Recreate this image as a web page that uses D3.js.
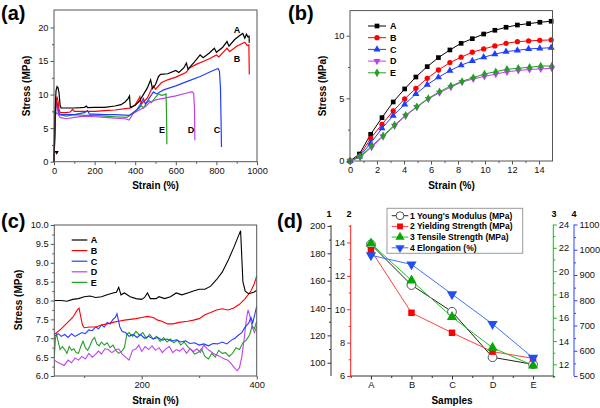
<!DOCTYPE html>
<html>
<head>
<meta charset="utf-8">
<script src="https://cdn.jsdelivr.net/npm/d3@7"></script>
<style>
body { margin: 0; background: #fff; }
text { font-family: Arial, "Liberation Sans", sans-serif; }
</style>
</head>
<body>
<svg width="600" height="408"></svg>
<script>
// ---- data ----
var sampleNames = ["A", "B", "C", "D", "E"];

// (a) full stress-strain curves [strain %, stress MPa]
var curveA = [[0,0],[3,4],[6,8],[10,10.6],[15,11.2],[20,11.0],[25,10.2],[30,8.4],[35,8.0],[60,8.0],[100,8.0],[130,8.05],[150,8.1],[160,8.3],[165,8.05],[200,8.1],[250,8.1],[300,8.3],[330,8.5],[350,8.9],[365,9.4],[372,9.8],[376,8.1],[400,8.4],[420,9.0],[440,10.0],[460,11.0],[476,12.2],[485,10.9],[500,11.5],[515,12.7],[525,13.0],[560,13.1],[600,13.6],[615,13.3],[640,14.0],[652,14.7],[660,13.8],[690,14.8],[720,15.9],[735,15.5],[765,16.2],[790,16.9],[800,16.3],[830,17.0],[852,17.9],[862,17.2],[890,18.2],[915,18.8],[930,19.1],[940,18.4],[948,19.0],[955,18.6],[961,18.7],[962,17.7]];
var curveB = [[0,0],[4,4],[8,8],[12,9.4],[15,9.6],[20,9.0],[25,7.8],[30,7.3],[60,7.3],[80,7.4],[92,7.8],[100,7.5],[150,7.5],[200,7.5],[250,7.6],[300,7.7],[350,7.9],[380,8.0],[400,8.5],[415,9.2],[423,9.7],[430,8.6],[460,9.5],[480,10.8],[490,11.3],[500,10.8],[530,11.8],[560,12.2],[600,12.6],[650,13.3],[670,14.0],[700,14.5],[740,15.0],[770,15.4],[800,15.9],[812,15.6],[840,16.5],[852,16.9],[865,16.4],[900,17.2],[920,17.5],[940,17.8],[952,17.3],[960,17.4],[962,13.0]];
var curveC = [[0,0],[4,4],[8,7.8],[12,9.0],[16,8.7],[22,7.4],[30,7.0],[60,7.0],[100,7.0],[150,7.3],[165,7.6],[175,7.1],[200,7.1],[250,7.0],[300,7.0],[370,6.9],[390,7.3],[410,7.8],[425,8.5],[440,9.4],[450,8.6],[470,9.5],[490,10.4],[505,10.1],[540,10.7],[600,11.3],[660,12.0],[720,12.7],[770,13.4],[808,13.9],[815,13.5],[820,11.0],[823,6.0],[825,2.2]];
var curveD = [[0,0],[4,4],[8,7.5],[12,9.0],[16,8.6],[22,7.0],[30,6.6],[60,6.4],[100,6.6],[150,6.8],[200,6.7],[250,6.6],[300,6.5],[350,6.4],[370,6.2],[390,7.2],[420,7.7],[450,8.2],[470,8.8],[500,9.2],[550,9.5],[600,9.8],[650,10.2],[680,10.45],[688,10.2],[692,8.0],[694,3.2]];
var curveE = [[0,0],[2,5],[5,7.5],[10,7.3],[15,7.2],[30,7.0],[60,6.8],[100,7.0],[150,6.9],[200,6.9],[250,6.8],[300,6.7],[360,6.6],[390,7.3],[420,8.0],[430,8.4],[440,8.0],[455,8.7],[470,9.1],[480,8.8],[500,9.6],[515,10.1],[530,9.9],[545,10.0],[552,10.1],[555,6.0],[556,2.6]];
var arrowMark = [13, 1.4];

// (b) initial region
var strainABC = [0,0.7,1.53,2.37,3.2,4.05,4.88,5.72,6.55,7.4,8.23,9.06,9.9,10.73,11.56,12.4,13.23,14.06,14.9];
var strainDE  = [0,0.75,1.6,2.45,3.3,4.12,4.95,5.8,6.63,7.47,8.3,9.13,9.96,10.8,11.63,12.47,13.3,14.13,14.95];
var initA = [0,0.56,2.13,3.46,4.71,5.75,6.7,7.53,8.25,8.86,9.39,9.76,10.13,10.43,10.67,10.85,10.96,11.07,11.15];
var initB = [0,0.4,1.81,2.93,3.99,4.95,5.8,6.6,7.26,7.85,8.28,8.68,8.94,9.18,9.39,9.52,9.58,9.63,9.66];
var initC = [0,0.35,1.41,2.61,3.62,4.52,5.35,6.09,6.68,7.21,7.64,7.98,8.28,8.52,8.73,8.83,8.94,8.99,9.04];
var initD = [0,0.3,1.1,1.95,2.8,3.6,4.3,4.95,5.45,5.9,6.3,6.55,6.75,6.93,7.12,7.22,7.3,7.35,7.4];
var initE = [0,0.34,1.2,2.02,2.87,3.65,4.34,5.0,5.53,5.99,6.36,6.65,6.94,7.13,7.32,7.4,7.48,7.58,7.58];

// (c) plateau region [strain %, stress MPa]
var plateauA = [[48,8.0],[60,8.0],[70,7.98],[80,8.03],[90,8.05],[100,8.1],[110,8.12],[120,8.08],[130,8.1],[140,8.15],[150,8.2],[156,8.22],[160,8.35],[164,8.15],[170,8.2],[180,8.1],[190,8.05],[200,8.03],[205,8.08],[210,8.2],[215,8.05],[225,8.05],[230,8.1],[240,8.05],[250,8.1],[260,8.2],[270,8.15],[280,8.2],[290,8.25],[300,8.3],[310,8.3],[320,8.38],[330,8.55],[340,8.75],[350,9.05],[360,9.4],[372,9.85],[376,8.5],[380,8.25],[386,8.18],[395,8.22],[400,8.27]];
var plateauB = [[48,7.1],[60,7.25],[70,7.4],[80,7.55],[88,7.75],[91,7.8],[97,7.35],[100,7.28],[110,7.3],[120,7.3],[130,7.35],[140,7.38],[150,7.42],[160,7.45],[170,7.48],[180,7.5],[190,7.52],[200,7.55],[210,7.58],[220,7.55],[228,7.48],[235,7.45],[245,7.38],[255,7.38],[265,7.42],[280,7.45],[290,7.48],[300,7.52],[310,7.62],[320,7.68],[330,7.75],[340,7.78],[350,7.75],[360,7.8],[370,7.9],[380,8.05],[390,8.25],[396,8.45],[400,8.65]];
var plateauC = [[48,7.05],[55,7.12],[60,7.05],[66,7.1],[72,7.02],[78,7.12],[84,7.05],[90,7.1],[96,7.15],[102,7.12],[108,7.22],[114,7.2],[120,7.3],[125,7.25],[130,7.35],[135,7.3],[140,7.42],[145,7.38],[150,7.5],[154,7.55],[157,7.65],[162,7.3],[166,7.18],[172,7.15],[178,7.05],[185,7.1],[192,7.02],[198,7.1],[205,7.0],[212,7.05],[220,6.98],[228,7.02],[236,6.95],[244,6.98],[252,6.92],[260,6.96],[268,6.9],[276,6.93],[284,6.86],[292,6.88],[300,6.82],[308,6.85],[316,6.8],[324,6.86],[332,6.85],[340,6.9],[348,6.85],[356,6.95],[362,7.0],[368,7.08],[374,7.15],[380,7.3],[386,7.4],[390,7.55],[393,7.4],[397,7.65],[400,7.85]];
var plateauD = [[48,6.42],[55,6.35],[60,6.32],[65,6.28],[72,6.42],[78,6.35],[84,6.48],[90,6.42],[96,6.52],[102,6.45],[108,6.6],[114,6.5],[120,6.58],[125,6.66],[130,6.58],[136,6.72],[142,6.7],[148,6.62],[154,6.68],[160,6.72],[166,6.58],[172,6.5],[178,6.42],[184,6.68],[190,6.72],[195,6.82],[200,6.65],[206,6.78],[212,6.7],[218,6.8],[224,6.68],[230,6.75],[236,6.62],[242,6.72],[248,6.78],[254,6.62],[260,6.7],[266,6.66],[272,6.74],[278,6.6],[284,6.72],[290,6.65],[296,6.72],[302,6.62],[308,6.82],[314,6.72],[320,6.65],[326,6.58],[332,6.55],[338,6.5],[344,6.45],[350,6.42],[356,6.32],[362,6.2],[366,6.14],[370,6.22],[374,6.5],[378,6.95],[382,7.5],[385,7.75],[388,7.6],[392,7.3],[396,7.15],[400,7.3]];
var plateauE = [[48,6.5],[50,7.0],[52,7.1],[55,6.9],[58,6.7],[62,6.78],[66,6.7],[70,6.6],[74,6.78],[78,6.68],[82,6.72],[86,6.62],[90,6.6],[94,6.78],[98,6.92],[102,6.75],[106,6.68],[110,6.8],[114,6.95],[118,7.02],[122,6.85],[126,6.8],[130,6.9],[135,6.82],[140,6.88],[145,6.75],[150,6.82],[155,6.68],[160,6.6],[165,6.65],[170,6.75],[174,7.1],[178,7.15],[184,7.05],[190,7.18],[196,7.08],[202,7.15],[208,7.0],[214,7.1],[220,6.98],[226,7.05],[232,6.92],[238,7.02],[244,6.9],[250,6.98],[256,6.88],[262,6.95],[268,6.82],[274,6.9],[280,6.78],[286,6.7],[292,6.58],[298,6.62],[304,6.72],[310,6.52],[316,6.45],[322,6.6],[328,6.5],[334,6.68],[340,6.6],[346,6.62],[352,6.52],[358,6.6],[364,6.75],[370,6.7],[376,6.88],[382,6.95],[388,7.1],[392,7.33],[396,7.25],[400,7.45]];

// (d) summary per sample
var youngsModulus = [186.5, 156.8, 137.3, 104, 98.8];
var yieldStrength = [13.54, 9.79, 8.59, 7.46, 7.06];
var tensileStrength = [22.37, 19.2, 16.06, 13.43, 11.9];
var elongation = [978, 942, 824, 706, 572];

var colA = "#000000", colB = "#ff0000", colC = "#1f3fff", colD = "#c040f0", colE = "#22a022";
var svg = d3.select('svg');

function frame(x0, y0, x1, y1) {
  svg.append('rect').attr('x', x0).attr('y', y0).attr('width', x1 - x0).attr('height', y1 - y0)
    .attr('fill', 'none').attr('stroke', '#555').attr('stroke-width', 1);
}

// draws minor + major ticks for one axis
function ticks(axisFn, scale, pos, major, minor, fmt, isX, color) {
  var tr = isX ? "translate(0," + pos + ")" : "translate(" + pos + ",0)";
  var g1 = svg.append('g').attr('transform', tr)
    .call(axisFn(scale).tickValues(minor).tickSize(2).tickFormat(''));
  g1.select('.domain').remove();
  var g2 = svg.append('g').attr('transform', tr)
    .call(axisFn(scale).tickValues(major).tickSize(3.5).tickPadding(2).tickFormat(fmt));
  g2.select('.domain').remove();
  g2.selectAll('text').attr('font-size', 9.3).attr('fill', '#111')
    .style('font-family', 'Arial, "Liberation Sans", sans-serif');
  [g1, g2].forEach(function (g) { g.selectAll('line').attr('stroke', color || '#555'); });
}

function label(txt, x, y, size, bold, anchor, rot) {
  var t = svg.append('text').attr('x', x).attr('y', y).attr('font-size', size)
    .attr('font-weight', bold ? 'bold' : 'normal').attr('text-anchor', anchor || 'start').text(txt);
  if (rot) t.attr('transform', 'rotate(-90,' + x + ',' + y + ')');
  return t;
}

// ---------------- (a) ----------------
var xa = d3.scaleLinear().domain([0, 1000]).range([54, 257]);
var ya = d3.scaleLinear().domain([0, 22.6]).range([161.7, 10]);
var lineA = d3.line().x(function (d) { return xa(d[0]); }).y(function (d) { return ya(d[1]); });

[[curveE, colE], [curveD, colD], [curveC, colC], [curveB, colB], [curveA, colA]].forEach(function (c) {
  svg.append('path').attr('d', lineA(c[0])).attr('fill', 'none').attr('stroke', c[1]).attr('stroke-width', 1.2);
});
svg.append('path').attr('d', d3.symbol().type(d3.symbolTriangle).size(8)())
  .attr('transform', 'translate(' + xa(arrowMark[0]) + ',' + ya(arrowMark[1]) + ') rotate(180)').attr('fill', '#000');

frame(54, 10, 257, 161.7);
ticks(d3.axisBottom, xa, 161.7, [0, 200, 400, 600, 800, 1000], [100, 300, 500, 700, 900], d3.format('d'), true);
ticks(d3.axisLeft, ya, 54, [0, 5, 10, 15, 20], [2.5, 7.5, 12.5, 17.5], d3.format('d'), false);
label('(a)', 1, 20, 20, true);
label('Strain (%)', 155.5, 189, 10, true, 'middle');
label('Stress (MPa)', 30, 86, 10, true, 'middle', true);
label('A', 237, 33, 9, true, 'middle');
label('B', 237, 62, 9, true, 'middle');
label('C', 217, 133, 9, true, 'middle');
label('D', 191, 133, 9, true, 'middle');
label('E', 162, 133, 9, true, 'middle');

// ---------------- (b) ----------------
var xb = d3.scaleLinear().domain([0, 15]).range([350, 552.5]);
var yb = d3.scaleLinear().domain([0, 12]).range([161, 10.6]);
var seriesB = [
  { name: 'A', xs: strainABC, ys: initA, color: colA, sym: d3.symbolSquare, rot: 0 },
  { name: 'B', xs: strainABC, ys: initB, color: colB, sym: d3.symbolCircle, rot: 0 },
  { name: 'C', xs: strainABC, ys: initC, color: colC, sym: d3.symbolTriangle, rot: 0 },
  { name: 'D', xs: strainDE, ys: initD, color: colD, sym: d3.symbolTriangle, rot: 180 },
  { name: 'E', xs: strainDE, ys: initE, color: colE, sym: d3.symbolDiamond, rot: 0 }
];
var lineB = d3.line().x(function (d) { return xb(d[0]); }).y(function (d) { return yb(d[1]); });
seriesB.forEach(function (s) {
  var pts = d3.zip(s.xs, s.ys);
  svg.append('path').attr('d', lineB(pts)).attr('fill', 'none').attr('stroke', s.color).attr('stroke-width', 1);
  svg.append('g').selectAll('path').data(pts).enter().append('path')
    .attr('d', d3.symbol().type(s.sym).size(s.sym === d3.symbolDiamond ? 20 : 22)())
    .attr('transform', function (d) { return 'translate(' + xb(d[0]) + ',' + yb(d[1]) + ') rotate(' + s.rot + ')'; })
    .attr('fill', s.color);
});
seriesB.forEach(function (s, i) {
  var y = 26 + i * 11.7;
  svg.append('line').attr('x1', 368).attr('x2', 386).attr('y1', y).attr('y2', y).attr('stroke', s.color).attr('stroke-width', 1);
  svg.append('path').attr('d', d3.symbol().type(s.sym).size(22)())
    .attr('transform', 'translate(377,' + y + ') rotate(' + s.rot + ')').attr('fill', s.color);
  label(s.name, 390, y + 3.3, 9, true);
});
frame(350, 10.6, 552.5, 161);
ticks(d3.axisBottom, xb, 161, [0, 2, 4, 6, 8, 10, 12, 14], [1, 3, 5, 7, 9, 11, 13], d3.format('d'), true);
ticks(d3.axisLeft, yb, 350, [0, 5, 10], [2.5, 7.5], d3.format('d'), false);
label('(b)', 288, 20, 20, true);
label('Strain (%)', 451.5, 189, 10, true, 'middle');
label('Stress (MPa)', 326, 86, 10, true, 'middle', true);

// ---------------- (c) ----------------
var xc = d3.scaleLinear().domain([48, 400]).range([54.3, 256.7]);
var yc = d3.scaleLinear().domain([6, 10]).range([376, 225]);
var lineC = d3.line().x(function (d) { return xc(d[0]); }).y(function (d) { return yc(d[1]); });
svg.append('clipPath').attr('id', 'clipc').append('rect').attr('x', 54.3).attr('y', 225).attr('width', 202.4).attr('height', 151);
var seriesC = [[plateauA, colA, 'A'], [plateauB, colB, 'B'], [plateauC, colC, 'C'], [plateauD, colD, 'D'], [plateauE, colE, 'E']];
[4, 3, 2, 1, 0].forEach(function (i) {
  svg.append('path').attr('d', lineC(seriesC[i][0])).attr('fill', 'none').attr('stroke', seriesC[i][1])
    .attr('stroke-width', 1.1).attr('clip-path', 'url(#clipc)');
});
seriesC.forEach(function (s, i) {
  var y = 240 + i * 10.6;
  svg.append('line').attr('x1', 71.7).attr('x2', 87.3).attr('y1', y).attr('y2', y).attr('stroke', s[1]).attr('stroke-width', 1.2);
  label(s[2], 90.7, y + 3.3, 9, true);
});
frame(54.3, 225, 256.7, 376);
ticks(d3.axisBottom, xc, 376, [200, 400], [100, 300], d3.format('d'), true);
ticks(d3.axisLeft, yc, 54.3, [6, 6.5, 7, 7.5, 8, 8.5, 9, 9.5, 10], [6.25, 6.75, 7.25, 7.75, 8.25, 8.75, 9.25, 9.75], d3.format('.1f'), false);
label('(c)', 1, 228, 20, true);
label('Strain (%)', 155.5, 404, 10, true, 'middle');
label('Stress (MPa)', 22, 300, 10, true, 'middle', true);

// ---------------- (d) ----------------
var xd = d3.scaleLinear().domain([-0.5, 4.5]).range([350.7, 553.3]);
var y1 = d3.scaleLinear().domain([90.3, 200.7]).range([376, 225]);
var y2 = d3.scaleLinear().domain([6, 15.05]).range([376, 225]);
var y3 = d3.scaleLinear().domain([11, 24]).range([376, 224.5]);
var y4 = d3.scaleLinear().domain([500, 1100]).range([376, 224.5]);

function vline(x, ya0, ya1, col) {
  svg.append('line').attr('x1', x).attr('x2', x).attr('y1', ya0).attr('y2', ya1).attr('stroke', col).attr('stroke-width', 1);
}
vline(331, 225, 376, '#333');
vline(350.7, 225, 376, '#ff2020');
vline(553.3, 224.5, 376, '#10c010');
vline(574, 224.5, 376, '#2a40ff');
svg.append('line').attr('x1', 350.7).attr('x2', 553.3).attr('y1', 376).attr('y2', 376).attr('stroke', '#333');

ticks(d3.axisLeft, y1, 331, [100, 120, 140, 160, 180, 200], [110, 130, 150, 170, 190], d3.format('d'), false, '#333');
ticks(d3.axisLeft, y2, 350.7, [6, 8, 10, 12, 14], [7, 9, 11, 13, 15], d3.format('d'), false, '#ff2020');
ticks(d3.axisRight, y3, 553.3, [12, 14, 16, 18, 20, 22, 24], [11, 13, 15, 17, 19, 21, 23], d3.format('d'), false, '#10c010');
ticks(d3.axisRight, y4, 574, [500, 600, 700, 800, 900, 1000, 1100], [550, 650, 750, 850, 950, 1050], d3.format('d'), false, '#2a40ff');
ticks(d3.axisBottom, xd, 376, [0, 1, 2, 3, 4], [-0.5, 0.5, 1.5, 2.5, 3.5, 4.5], function (i) { return sampleNames[i]; }, true, '#333');

var seriesD = [
  { vals: youngsModulus, scale: y1, line: '#222', fill: '#fff', stroke: '#555', sym: d3.symbolCircle, size: 60, rot: 0, text: "1 Young's Modulus (MPa)" },
  { vals: yieldStrength, scale: y2, line: '#ff4040', fill: '#ff0000', stroke: 'none', sym: d3.symbolSquare, size: 42, rot: 0, text: '2 Yielding Strength (MPa)' },
  { vals: tensileStrength, scale: y3, line: '#20c020', fill: '#00aa00', stroke: 'none', sym: d3.symbolTriangle, size: 46, rot: 0, text: '3 Tensile Strength (MPa)' },
  { vals: elongation, scale: y4, line: '#4070ff', fill: '#2050f0', stroke: 'none', sym: d3.symbolTriangle, size: 46, rot: 180, text: '4 Elongation (%)' }
];
seriesD.forEach(function (s) {
  var ln = d3.line().x(function (d, i) { return xd(i); }).y(function (d) { return s.scale(d); });
  svg.append('path').attr('d', ln(s.vals)).attr('fill', 'none').attr('stroke', s.line).attr('stroke-width', 1);
});
seriesD.forEach(function (s) {
  svg.append('g').selectAll('path').data(s.vals).enter().append('path')
    .attr('d', d3.symbol().type(s.sym).size(s.size)())
    .attr('transform', function (d, i) { return 'translate(' + xd(i) + ',' + s.scale(d) + ') rotate(' + s.rot + ')'; })
    .attr('fill', s.fill).attr('stroke', s.stroke).attr('stroke-width', 1);
});

// legend (d)
svg.append('rect').attr('x', 387).attr('y', 208.3).attr('width', 135.7).attr('height', 45)
  .attr('fill', '#fff').attr('stroke', '#999').attr('stroke-width', 1);
seriesD.forEach(function (s, i) {
  var y = 215.7 + i * 10.7;
  svg.append('line').attr('x1', 391.7).attr('x2', 408.3).attr('y1', y).attr('y2', y).attr('stroke', s.line).attr('stroke-width', 1);
  svg.append('path').attr('d', d3.symbol().type(s.sym).size(s.size * 0.8)())
    .attr('transform', 'translate(400,' + y + ') rotate(' + s.rot + ')')
    .attr('fill', s.fill).attr('stroke', s.stroke);
  label(s.text, 410, y + 3, 8.5, true);
});

label('1', 329, 217, 9, true, 'middle');
label('2', 349, 217, 9, true, 'middle');
label('3', 554, 217, 9, true, 'middle');
label('4', 574, 217, 9, true, 'middle');
label('(d)', 277, 228, 20, true);
label('Samples', 452, 404, 10, true, 'middle');
</script>
</body>
</html>
